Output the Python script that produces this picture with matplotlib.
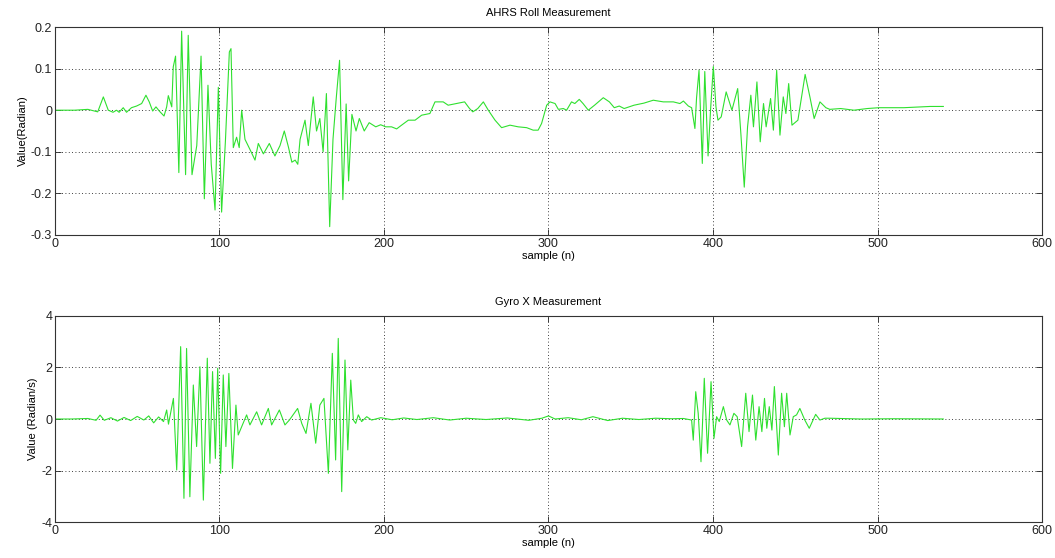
''' AHRS roll and gyro x measurement, matlab style '''
import matplotlib
matplotlib.use('Agg')
import matplotlib.pyplot as plt

# roll angle (radian) as (sample, value) vertices
roll_n = [0, 12, 20, 26, 29.4, 32.4, 35.3, 37.4, 39, 41.5, 43.5, 46.5, 49.6, 52.7, 55.3, 57.3,
          59.4, 61.4, 63.4, 66.3, 67.9, 68.9, 71, 71.9, 73.3, 75.3, 77, 79.4, 81, 83.3, 86.2,
          88.8, 90.8, 93, 95, 97.3, 99.3, 101.3, 103.6, 106, 107, 108.4, 110.4, 112, 113.5,
          115.5, 118.6, 121.6, 123.6, 126.7, 130.3, 133.7, 136.8, 139.4, 142, 144, 146, 147.6,
          149, 152, 154, 157, 159, 161, 163, 165, 167, 169, 171, 173, 175, 177, 178.5, 180.5,
          183, 185, 188, 191, 195, 198, 201, 204.6, 207.7, 210, 214.8, 218.9, 222.9, 227.9,
          231, 236, 239, 244, 249, 252, 254, 257, 260.4, 263.4, 267.5, 271.5, 276.6, 281.6,
          286.7, 290.7, 293.7, 295.8, 298.9, 300.9, 304, 306, 309, 311, 314, 316, 318.7, 321,
          324.2, 328, 333.3, 337, 340, 343, 346, 352, 358, 363.7, 369.8, 375.9, 379.9, 382, 385,
          387, 389, 390, 391.5, 393.5, 395, 397, 398.5, 400.2, 401.8, 403, 405, 408, 411.5, 415,
          417, 419, 421, 423, 424.6, 426.7, 428.7, 430.7, 432.3, 435, 436.7, 438.7, 440.7,
          442.7, 444.3, 446, 448, 451.6, 456, 459, 461.5, 465, 468.6, 471, 477.6, 485.7, 493.8,
          500.9, 516, 532, 540]
roll_val = [0, 0, 0.002, -0.004, 0.032, 0.0, -0.005, 0.0, -0.005, 0.006, -0.005, 0.006, 0.01,
            0.016, 0.036, 0.02, -0.002, 0.008, -0.002, -0.014, 0.008, 0.035, 0.008, 0.104, 0.13,
            -0.15, 0.19, -0.155, 0.18, -0.155, -0.085, 0.13, -0.213, 0.06, -0.13, -0.24, 0.055,
            -0.245, -0.075, 0.14, 0.148, -0.09, -0.065, -0.09, 0.0, -0.07, -0.095, -0.12, -0.08,
            -0.105, -0.08, -0.11, -0.085, -0.05, -0.09, -0.125, -0.12, -0.13, -0.07, -0.024,
            -0.085, 0.032, -0.05, -0.02, -0.1, 0.04, -0.28, -0.07, 0.03, 0.12, -0.215, 0.015,
            -0.17, -0.01, -0.05, -0.02, -0.05, -0.03, -0.04, -0.035, -0.04, -0.04, -0.045,
            -0.038, -0.024, -0.024, -0.012, -0.008, 0.02, 0.02, 0.012, 0.016, 0.02, 0.004,
            -0.004, 0.004, 0.02, 0.0, -0.024, -0.042, -0.036, -0.04, -0.042, -0.048, -0.048,
            -0.032, 0.012, 0.02, 0.016, 0.002, 0.004, 0.0, 0.02, 0.016, 0.026, 0.016, 0.0, 0.012,
            0.03, 0.02, 0.006, 0.01, 0.004, 0.012, 0.017, 0.024, 0.02, 0.02, 0.016, 0.022, 0.01,
            0.006, -0.044, 0.03, 0.096, -0.128, 0.093, -0.11, 0.0, 0.105, 0.008, -0.024, -0.016,
            0.044, 0.0, 0.052, -0.06, -0.185, -0.04, 0.036, -0.04, 0.068, -0.076, 0.016, -0.04,
            0.028, -0.048, 0.096, -0.06, 0.032, -0.008, 0.064, -0.036, -0.024, 0.086, 0.03,
            -0.02, 0.02, 0.006, 0.002, 0.004, 0.0, 0.004, 0.006, 0.006, 0.009, 0.009]

# gyro x rate (radian/s), same idea
gyro_n = [0, 10, 20, 25, 27.4, 30, 34, 38, 42, 46, 50, 54, 57, 60, 63, 66, 67.9, 69, 72, 74,
          76.4, 78.4, 80, 82, 84.1, 86.1, 88.1, 90.2, 92.6, 94.2, 95.8, 97.5, 98.9, 100.7,
          102.3, 103.9, 105.7, 107.9, 110, 111.4, 113.5, 116.5, 118.5, 122.6, 125.6, 129.7,
          131.7, 136.4, 139.8, 142.5, 147.5, 150, 152.6, 155.6, 158.5, 161, 163.5, 166.2,
          168.6, 170.6, 172.2, 174.3, 176.3, 178, 179.8, 181.4, 182.8, 184.4, 186.4, 189.5,
          192.5, 198, 205, 212, 220, 230, 240, 250, 262, 275, 288, 296, 300, 304, 312, 320,
          327, 336, 345, 355, 365, 375, 382, 387, 388, 389.5, 391, 392.7, 394.7, 396.7, 398.8,
          400.6, 402.2, 403.8, 406.3, 408.3, 410.3, 412.7, 414.7, 417.4, 419.9, 421.9, 424,
          426, 428, 429.7, 431.3, 432.7, 434.2, 435.8, 437.3, 439.7, 441.7, 443.4, 444.8,
          446.8, 448.8, 450.8, 452.8, 455.8, 458.5, 462.4, 465, 468, 471, 490, 510, 540]
gyro_val = [0, 0, 0.02, -0.05, 0.15, -0.05, 0.05, -0.08, 0.06, -0.06, 0.1, -0.04, 0.12,
            -0.15, 0.08, -0.1, 0.35, -0.2, 0.8, -1.98, 2.81, -3.08, 2.74, -3.02, 1.32, -1.07,
            2.03, -3.15, 2.36, -1.72, 1.84, -1.53, 1.97, -2.11, 1.71, -1.07, 1.77, -1.92, 0.54,
            -0.62, -0.3, 0.16, -0.23, 0.28, -0.23, 0.41, -0.23, 0.35, -0.23, -0.04, 0.41,
            -0.17, -0.56, 0.61, -0.94, 0.54, 0.8, -2.11, 2.55, -1.59, 3.13, -2.82, 2.29, -1.2,
            1.51, -0.04, -0.17, 0.16, -0.1, 0.09, -0.04, 0.05, -0.03, 0.04, -0.02, 0.05, -0.04,
            0.03, -0.02, 0.04, -0.05, 0.03, 0.12, 0.0, 0.05, -0.03, 0.09, -0.06, 0.03, -0.02,
            0.03, 0.01, 0.02, -0.04, -0.82, 1.06, 0.22, -1.66, 1.58, -1.33, 1.45, -0.75, 0.09,
            -0.1, 0.48, -0.04, -0.23, 0.22, 0.09, -1.07, 1.0, -0.49, 0.93, -0.82, 0.48, -0.49,
            0.8, -0.36, 0.48, -0.43, 1.26, -1.4, 1.0, -0.3, 1.0, -0.62, 0.09, 0.16, 0.41, -0.04,
            -0.36, 0.18, -0.04, 0.03, 0.03, 0.0, 0.01, 0.0]

roll_ticks = [-0.3, -0.2, -0.1, 0, 0.1, 0.2]
roll_labels = ['-0.3', '-0.2', '-0.1', '0', '0.1', '0.2']
gyro_ticks = [-4, -2, 0, 2, 4]
x_ticks = [0, 100, 200, 300, 400, 500, 600]

plt.rcParams['font.family'] = ['Liberation Sans', 'DejaVu Sans']
plt.rcParams['font.size'] = 8
plt.rcParams['axes.unicode_minus'] = False

fig = plt.figure(figsize=(10.55, 5.58), dpi=100)
ax1 = fig.add_axes([0.0521, 0.5789, 0.9356, 0.3727])
ax2 = fig.add_axes([0.0521, 0.0645, 0.9356, 0.3692])

line_color = '#2fe02f'

def style(ax, title, ylabel):
    ax.set_xlim(0, 600)
    ax.set_xticks(x_ticks)
    ax.set_title(title, fontsize=8, pad=8)
    ax.set_xlabel('sample (n)', fontsize=8, labelpad=1)
    ax.set_ylabel(ylabel, fontsize=8, labelpad=2)
    ax.grid(True, linestyle=(0, (1, 3)), color='black', linewidth=0.6)
    ax.tick_params(direction='in', top=True, right=True, length=4, width=0.6,
                   labelsize=9, pad=2, colors='#222222')
    for sp in ax.spines.values():
        sp.set_linewidth(0.8)
        sp.set_color('#333333')

ax1.plot(roll_n, roll_val, color=line_color, linewidth=0.8)
ax1.set_ylim(-0.3, 0.2)
ax1.set_yticks(roll_ticks)
ax1.set_yticklabels(roll_labels)
style(ax1, 'AHRS Roll Measurement', 'Value(Radian)')

ax2.plot(gyro_n, gyro_val, color=line_color, linewidth=0.8)
ax2.set_ylim(-4, 4)
ax2.set_yticks(gyro_ticks)
style(ax2, 'Gyro X Measurement', 'Value (Radian/s)')

fig.savefig('out.png', dpi=100)
